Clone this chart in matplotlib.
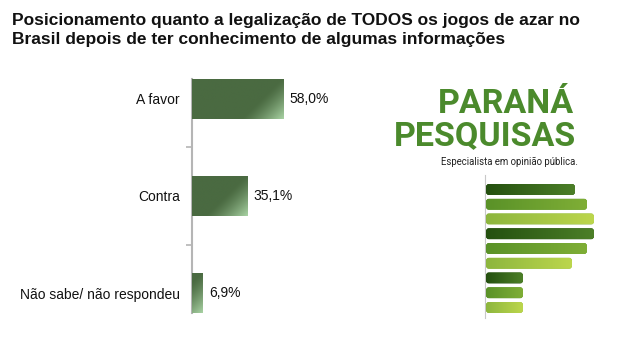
import numpy as np
import matplotlib
matplotlib.use("Agg")
import matplotlib.pyplot as plt
from matplotlib.patches import FancyBboxPatch
from matplotlib.colors import to_rgb

# ---- data ----
categories = ["A favor", "Contra", "Não sabe/ não respondeu"]
values = [58.0, 35.1, 6.9]
value_labels = ["58,0%", "35,1%", "6,9%"]
title = ("Posicionamento quanto a legalização de TODOS os jogos de azar no\n"
         "Brasil depois de ter conhecimento de algumas informações")

# logo decoration (bar lengths in the logo graphic, relative units)
logo_lengths = [89, 101, 108, 108, 101, 86, 37, 37, 37]
logo_colors = [("#24500f", "#4c7f28"), ("#5a9228", "#7fae36"), ("#8db63e", "#bcd64c")] * 3

W, H = 620, 350
fig = plt.figure(figsize=(W / 100, H / 100), dpi=100)
plt.rcParams['font.family'] = ['Liberation Sans', 'DejaVu Sans']

def fx(px):
    return px / W

def fy(py):
    return 1 - py / H

# ---- title ----
fig.text(fx(12), fy(13), title, ha="left", va="top", fontsize=12.5,
         fontweight="bold", linespacing=1.36, color="#111111")

# ---- main bar chart ----
ax_left, ax_right = 192, 192 + 157
ax_top, ax_bot = 79, 313
ax = fig.add_axes([fx(ax_left), fy(ax_bot), fx(ax_right - ax_left), (ax_bot - ax_top) / H])
bar_h = 0.41
ypos = np.arange(len(categories))
ax.set_xlim(0, 100)
ax.set_ylim(len(categories) - 1 + bar_h / 2, -bar_h / 2)

px_per_x = (ax_right - ax_left) / 100.0
px_per_y = (ax_bot - ax_top) / (len(categories) - 1 + bar_h)

base = np.array(to_rgb("#4a6a41"))
light = np.array(to_rgb("#a9d3a4"))
bars = ax.barh(ypos, values, height=bar_h, color="#4a6a41", zorder=2)
for b in bars:
    x0, y0 = b.get_x(), b.get_y()
    w, h = b.get_width(), b.get_height()
    wp, hp = w * px_per_x, h * px_per_y
    nx, ny = max(int(wp * 2), 2), max(int(hp * 2), 2)
    xs = np.linspace(0, wp, nx)
    ys = np.linspace(0, hp, ny)
    XX, YY = np.meshgrid(xs, ys)
    d = (wp - XX) + (hp - YY)
    t = np.clip(1 - d / 42.0, 0, 1) ** 1.3
    img = base[None, None, :] * (1 - t[..., None]) + light[None, None, :] * t[..., None]
    im = ax.imshow(img, extent=(x0, x0 + w, y0 + h, y0), origin="upper",
                   aspect="auto", interpolation="bilinear", zorder=3)
    im.set_clip_path(b)

for yv, v, lab in zip(ypos, values, value_labels):
    ax.text(v + 6 / px_per_x, yv, lab, ha="left", va="center", fontsize=10, color="#111111")

ax.set_yticks(ypos)
ax.set_yticklabels(categories, fontsize=10, color="#111111")
ax.set_yticks([0.5, 1.5], minor=True)
ax.tick_params(axis="y", which="major", length=0, pad=8.6)
ax.tick_params(axis="y", which="minor", length=4, width=1.2, color="#b5b5b5", direction="out")
ax.set_xticks([])
for s in ["top", "right", "bottom"]:
    ax.spines[s].set_visible(False)
ax.spines["left"].set_color("#b5b5b5")
ax.spines["left"].set_linewidth(1.5)
ax.set_facecolor("none")

# ---- logo ----
green = "#4b8a2c"
fig.text(fx(574), fy(113), "PARANÁ", ha="right", va="baseline", fontsize=24.5,
         fontweight="bold", family=["Roboto", "DejaVu Sans"], color=green)
fig.text(fx(576), fy(145), "PESQUISAS", ha="right", va="baseline", fontsize=24.5,
         fontweight="bold", family=["Roboto", "DejaVu Sans"], color=green)
fig.text(fx(578), fy(165), "Especialista em opinião pública.", ha="right", va="baseline",
         fontsize=6.9, family=["Roboto", "DejaVu Sans"], color="#222222")

lx0, lx1, ly0, ly1 = 478, 605, 172, 322
lax = fig.add_axes([fx(lx0), fy(ly1), fx(lx1 - lx0), (ly1 - ly0) / H])
lax.set_xlim(lx0, lx1)
lax.set_ylim(ly1, ly0)
lax.axis("off")
lax.plot([485, 485], [175, 318], color="#c8c8c8", lw=0.8)
for i, (L, (c0, c1)) in enumerate(zip(logo_lengths, logo_colors)):
    top = 184 + i * 14.75
    hh = 11
    patch = FancyBboxPatch((486 + 3, top + 3), L - 6, hh - 6,
                           boxstyle="round,pad=3", linewidth=0, facecolor=c0)
    lax.add_patch(patch)
    g = np.linspace(0, 1, 64)[None, :, None]
    img = np.array(to_rgb(c0))[None, None, :] * (1 - g) + np.array(to_rgb(c1))[None, None, :] * g
    img = np.repeat(img, 2, axis=0)
    im = lax.imshow(img, extent=(486, 486 + L, top + hh, top), aspect="auto",
                    interpolation="bilinear", zorder=3)
    im.set_clip_path(patch)

fig.savefig("out.png", dpi=100, facecolor="white")
